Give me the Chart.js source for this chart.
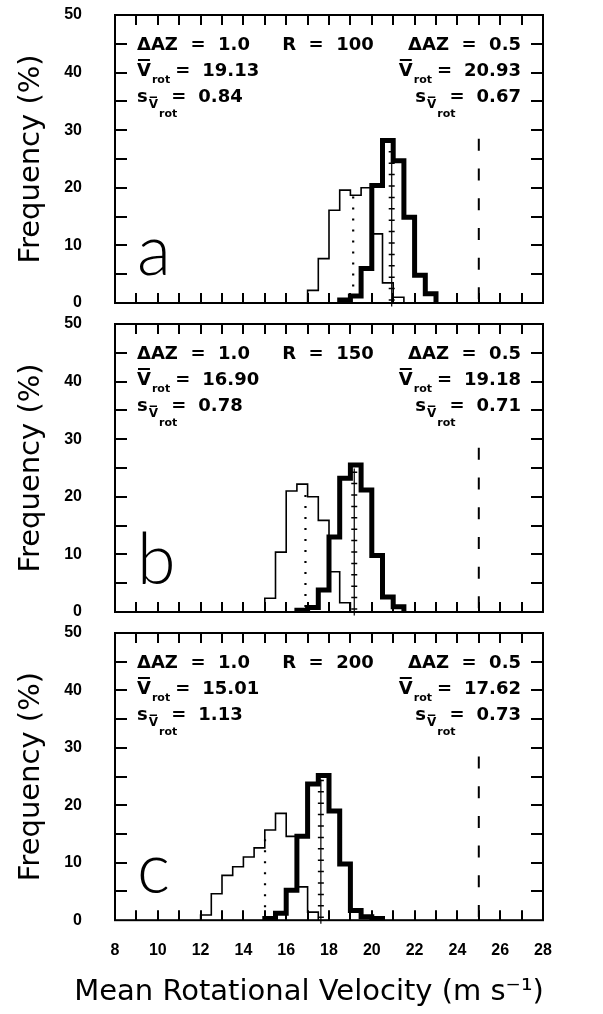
<!DOCTYPE html>
<html><head><meta charset="utf-8">
<script src="https://cdn.jsdelivr.net/npm/chart.js@4.4.1/dist/chart.umd.min.js"></script>
<style>
html,body{margin:0;padding:0;background:#fff;overflow:hidden;width:603px;height:1014px;position:relative;}
canvas{position:absolute;left:0;}
</style></head><body>
<canvas id="ca" width="618" height="309" style="top:0px"></canvas>
<canvas id="cb" width="618" height="309" style="top:309px"></canvas>
<canvas id="cc" width="618" height="396" style="top:618px"></canvas>
<script>
// ---- data ----
const binEdges = [12.0,12.5,13.0,13.5,14.0,14.5,15.0,15.5,16.0,16.5,17.0,17.5,18.0,18.5,19.0,19.5,20.0,20.5,21.0,21.5,22.0,22.5,23.0];
// frequency (%) per 0.5 m/s bin (left edges = binEdges[0..21])
const thinR100  = [0,0,0,0,0,0,0,0,0,0, 2.2,7.7,16.1,19.6,18.7,20.0,12.0,3.5,1.0, 0,0,0];
const thickR100 = [0,0,0,0,0,0,0,0,0,0,0,0,0, 0.5,1.2,6.0,20.4,28.2,24.7,14.9,4.8,1.6];
const thinR150  = [0,0,0,0,0,0, 2.4,10.4,21.0,22.2,20.0,15.9,7.0,1.6, 0,0,0,0,0,0,0,0];
const thickR150 = [0,0,0,0,0,0,0,0,0, 0.3,0.8,3.8,13.0,23.2,25.5,21.2,9.8,2.6,0.9, 0,0,0];
const thinR200  = [0.9,4.6,7.8,9.3,11.0,12.6,15.7,18.6,14.6,5.8,1.4, 0,0,0,0,0,0,0,0,0,0,0];
const thickR200 = [0,0,0,0,0,0, 0.3,1.2,5.2,14.6,23.7,25.2,19.0,9.8,1.7,0.6,0.3, 0,0,0,0,0];

const ranges      = [100, 150, 200];
const panelLetters= ['a', 'b', 'c'];
const dazThin     = '1.0';
const dazThick    = '0.5';
const meanThin    = [19.13, 16.90, 15.01];
const meanThick   = [20.93, 19.18, 17.62];
const sdThin      = ['0.84', '0.78', '1.13'];
const sdThick     = ['0.67', '0.71', '0.73'];
const dottedTop   = [18.5, 20.3, 14.1];
const plusTop     = [27.0, 24.9, 24.5];
const trueVelocity= 25;
const trueLineTop = 28.5;
const xTickLabels = ['8','10','12','14','16','18','20','22','24','26','28'];
const yTickLabels = ['0','10','20','30','40','50'];
const thinSeries  = [thinR100, thinR150, thinR200];
const thickSeries = [thickR100, thickR150, thickR200];

Chart.defaults.font.family = '"DejaVu Sans", sans-serif';
Chart.defaults.color = '#000';

function stepPoints(vals){
  let first = vals.findIndex(v => v > 0);
  let last = -1; vals.forEach((v,i)=>{ if (v > 0) last = i; });
  const pts = [{x: binEdges[first], y: 0}];
  for (let i = first; i <= last; i++) pts.push({x: binEdges[i], y: vals[i]});
  pts.push({x: binEdges[last + 1], y: 0});
  return pts;
}

const MAIN = 'bold 18px "DejaVu Sans"';
const SUB  = 'bold 11px "DejaVu Sans"';
const SUBV = 'bold 12px "DejaVu Sans"';

function rowWidth(ctx, segs){
  let w = 0;
  for (const s of segs){
    if (s.gap !== undefined){ w += s.gap; continue; }
    ctx.font = s.font; w += ctx.measureText(s.t).width;
  }
  return w;
}
function drawRow(ctx, segs, x, base, align){
  const w = rowWidth(ctx, segs);
  let cx = align === 'right' ? x - w : (align === 'center' ? x - w/2 : x);
  for (const s of segs){
    if (s.gap !== undefined){ cx += s.gap; continue; }
    ctx.font = s.font;
    const m = ctx.measureText(s.t);
    const by = base + (s.dy || 0);
    ctx.fillText(s.t, cx, by);
    if (s.bar){
      const top = by - m.actualBoundingBoxAscent - s.barGap - s.barW;
      ctx.fillRect(cx + 1, top, m.width - 2, s.barW);
    }
    cx += m.width;
  }
}
function row2(val){
  return [{t:'V',font:MAIN,bar:true,barGap:2,barW:2},{gap:1},{t:'rot',font:SUB,dy:7},{gap:5},
          {t:'=',font:MAIN},{gap:12},{t:val,font:MAIN}];
}
function row3(val){
  return [{t:'s',font:MAIN},{gap:1},{t:'V',font:SUBV,dy:6,bar:true,barGap:1,barW:1.5},{gap:1},
          {t:'rot',font:SUB,dy:15},{gap:-6},{t:'=',font:MAIN},{gap:12},{t:val,font:MAIN}];
}

const framePlugin = {
  id: 'frame',
  afterDatasetsDraw(chart){
    const {ctx, chartArea: a} = chart;
    const x = chart.scales.x, y = chart.scales.y;
    const p = chart.options.plugins.panel.index;
    ctx.save();
    // plus markers along the thick-series mean line
    const px = x.getPixelForValue(meanThick[p]);
    const y0 = y.getPixelForValue(0), yt = y.getPixelForValue(plusTop[p]);
    ctx.strokeStyle = '#000'; ctx.lineWidth = 1.5; ctx.beginPath();
    for (let yy = y0 - 3; yy >= yt - 1; yy -= 11.4){ ctx.moveTo(px - 3, yy); ctx.lineTo(px + 3, yy); }
    ctx.stroke();
    // frame
    ctx.lineWidth = 2;
    ctx.strokeRect(a.left, a.top, a.right - a.left, a.bottom - a.top);
    ctx.beginPath();
    for (const t of x.ticks){
      if (t.value <= x.min || t.value >= x.max) continue;
      const tx = Math.round(x.getPixelForValue(t.value)) ;
      ctx.moveTo(tx, a.bottom); ctx.lineTo(tx, a.bottom - 10);
      ctx.moveTo(tx, a.top); ctx.lineTo(tx, a.top + 10);
    }
    for (const t of y.ticks){
      if (t.value <= y.min || t.value >= y.max) continue;
      const ty = Math.round(y.getPixelForValue(t.value));
      ctx.moveTo(a.left, ty); ctx.lineTo(a.left + 12, ty);
      ctx.moveTo(a.right, ty); ctx.lineTo(a.right - 12, ty);
    }
    ctx.stroke();
    // annotations
    ctx.fillStyle = '#000';
    ctx.textBaseline = 'alphabetic';
    const L = a.left, T = a.top;
    drawRow(ctx, [{t:'\u0394AZ  =  ' + dazThin, font:MAIN}], L + 22, T + 35, 'left');
    drawRow(ctx, [{t:'R  =  ' + ranges[p], font:MAIN}], L + 213, T + 35, 'center');
    drawRow(ctx, [{t:'\u0394AZ  =  ' + dazThick, font:MAIN}], L + 406, T + 35, 'right');
    drawRow(ctx, row2(meanThin[p].toFixed(2)), L + 22, T + 61, 'left');
    drawRow(ctx, row2(meanThick[p].toFixed(2)), L + 406, T + 61, 'right');
    drawRow(ctx, row3(sdThin[p]), L + 22, T + 87, 'left');
    drawRow(ctx, row3(sdThick[p]), L + 406, T + 87, 'right');
    ctx.font = '300 70px Lato';
    ctx.fillText(panelLetters[p], L + 22, T + 260);
    ctx.restore();
  }
};

function noPad(s){ s.paddingTop = 0; s.paddingBottom = 0; s.paddingLeft = 0; s.paddingRight = 0; }

function makeChart(id, p, isBottom){
  const tickFont = {family: '"Liberation Sans"', size: 16, weight: 'bold'};
  new Chart(document.getElementById(id), {
    type: 'line',
    data: { datasets: [
      { data: [{x: meanThick[p], y: plusTop[p]}, {x: meanThick[p], y: -0.6}], borderColor:'#000', borderWidth:1.2, pointRadius:0, clip:false, order:0 },
      { data: [{x: meanThin[p], y: dottedTop[p]}, {x: meanThin[p], y: 0}], borderColor:'#000', borderWidth:2.2, borderDash:[2,9], pointRadius:0, clip:false, order:1 },
      { data: stepPoints(thickSeries[p]), stepped:'before', borderColor:'#000', borderWidth:5, borderJoinStyle:'miter', pointRadius:0, clip:false, order:2 },
      { data: stepPoints(thinSeries[p]), stepped:'before', borderColor:'#000', borderWidth:1.6, borderJoinStyle:'miter', pointRadius:0, clip:false, order:3 },
      { data: [{x: trueVelocity, y: trueLineTop}, {x: trueVelocity, y: 0}], borderColor:'#000', borderWidth:2, borderDash:[12,17.7], pointRadius:0, clip:false, order:4 }
    ]},
    options: {
      responsive: false, animation: false, devicePixelRatio: 1,
      events: [],
      layout: { autoPadding: false, padding: {top: 15, left: 0, right: 0, bottom: isBottom ? 4 : 0} },
      plugins: {
        legend: {display: false}, tooltip: {enabled: false},
        panel: {index: p},
        title: isBottom ? {display: true, position: 'bottom', text: 'Mean Rotational Velocity (m s\u207B\u00B9)',
                 color: '#000', font: {family: '"DejaVu Sans"', size: 29, weight: 'normal'}, padding: {top: 10, bottom: 0}}
               : {display: false}
      },
      scales: {
        x: { type: 'linear', min: 8, max: 28,
             grid: {display: false, drawTicks: false}, border: {display: false},
             ticks: {display: isBottom, stepSize: 1, autoSkip: false, maxRotation: 0, padding: 21, color: '#000', font: tickFont,
                     callback: v => xTickLabels.includes(String(v)) ? String(v) : ''},
             afterFit: s => { s.height = isBottom ? 45 : 6; noPad(s); } },
        y: { min: 0, max: 50,
             grid: {display: false, drawTicks: false}, border: {display: false},
             ticks: {stepSize: 5, padding: 33, color: '#000', font: tickFont,
                     callback: v => yTickLabels.includes(String(v)) ? String(v) : ''},
             title: {display: true, text: 'Frequency (%)', color: '#000',
                     font: {family: '"DejaVu Sans"', size: 29, weight: 'normal'}, padding: {top: 14, bottom: 0}},
             afterFit: s => { s.width = 115; noPad(s); } },
        y2: { position: 'right', display: true, grid: {display: false, drawTicks: false}, border: {display: false},
              ticks: {display: false}, afterFit: s => { s.width = 75; noPad(s); } }
      }
    },
    plugins: [framePlugin]
  });
}
makeChart('ca', 0, false);
makeChart('cb', 1, false);
makeChart('cc', 2, true);
</script>
</body></html>
